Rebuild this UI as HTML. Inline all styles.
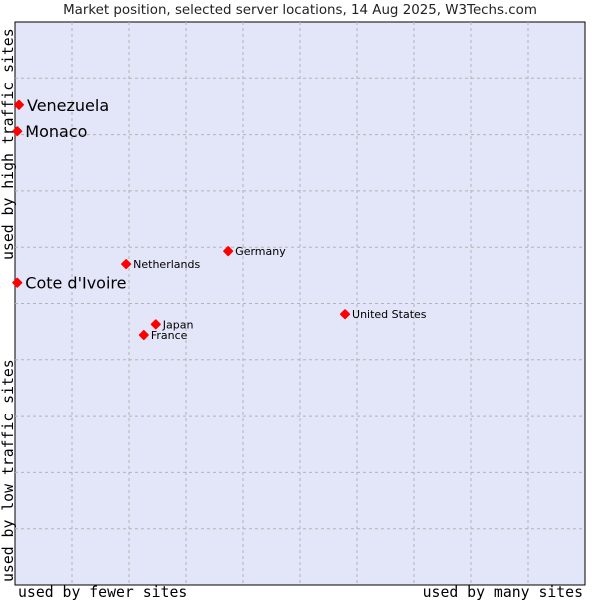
<!DOCTYPE html>
<html><head><meta charset="utf-8"><style>
body{margin:0;background:#fff;}
svg{display:block;font-family:"DejaVu Sans","Liberation Sans",sans-serif;}
</style></head><body>
<svg width="600" height="600">
<text x="300" y="14" text-anchor="middle" font-size="13.4" fill="#222">Market position, selected server locations, 14 Aug 2025, W3Techs.com</text>
<rect x="15" y="22" width="570" height="563" fill="#e3e5f8" stroke="#000" stroke-width="1"/>
<g id="grid"></g>
<g id="pts"></g>
<text x="18" y="597" font-family="DejaVu Sans Mono,Liberation Mono,monospace" font-size="14.8" fill="#000">used by fewer sites</text>
<text x="583" y="597" text-anchor="end" font-family="DejaVu Sans Mono,Liberation Mono,monospace" font-size="14.8" fill="#000">used by many sites</text>
<text transform="translate(13,260) rotate(-90)" font-family="DejaVu Sans Mono,Liberation Mono,monospace" font-size="14.8" fill="#000">used by high traffic sites</text>
<text transform="translate(13,582) rotate(-90)" font-family="DejaVu Sans Mono,Liberation Mono,monospace" font-size="14.8" fill="#000">used by low traffic sites</text>
</svg>
<script>
const names=["Venezuela","Monaco","Cote d'Ivoire","Netherlands","Germany","United States","Japan","France"];
const xs=[0.007,0.004,0.004,0.195,0.374,0.579,0.247,0.226];
const ys=[0.853,0.806,0.537,0.570,0.593,0.481,0.463,0.444];
const big=[1,1,1,0,0,0,0,0];
const X0=15,X1=585,Y0=585,Y1=22;
const sx=v=>X0+v*(X1-X0), sy=v=>Y0-v*(Y0-Y1);
const NS="http://www.w3.org/2000/svg";
const g=document.getElementById('grid');
for(let i=1;i<10;i++){
  const v=document.createElementNS(NS,'line');
  v.setAttribute('x1',sx(i/10));v.setAttribute('x2',sx(i/10));v.setAttribute('y1',Y1);v.setAttribute('y2',Y0);
  v.setAttribute('stroke','#b4b4b4');v.setAttribute('stroke-dasharray','3,3');
  
  
  g.appendChild(v);
  const h=document.createElementNS(NS,'line');
  h.setAttribute('y1',sy(i/10));h.setAttribute('y2',sy(i/10));h.setAttribute('x1',X0);h.setAttribute('x2',X1);
  h.setAttribute('stroke','#b4b4b4');h.setAttribute('stroke-dasharray','3,3');
  
  
  g.appendChild(h);
}
const p=document.getElementById('pts');
names.forEach((n,i)=>{
  const cx=sx(xs[i]),cy=sy(ys[i]);
  const r=4.3;
  const c=document.createElementNS(NS,'polygon');
  c.setAttribute('points',`${cx},${cy-r} ${cx+r},${cy} ${cx},${cy+r} ${cx-r},${cy}`);
  c.setAttribute('fill','#f00');c.setAttribute('stroke','#f00');c.setAttribute('stroke-width','1.5');c.setAttribute('stroke-linejoin','round');
  
  
  p.appendChild(c);
  const t=document.createElementNS(NS,'text');
  t.setAttribute('x',cx+(big[i]?8:7));t.setAttribute('y',cy+(big[i]?6:4));
  t.setAttribute('font-size',big[i]?16:11);t.setAttribute('fill','#000');
  t.textContent=n;
  
  
  p.appendChild(t);
});
</script>
</body></html>
